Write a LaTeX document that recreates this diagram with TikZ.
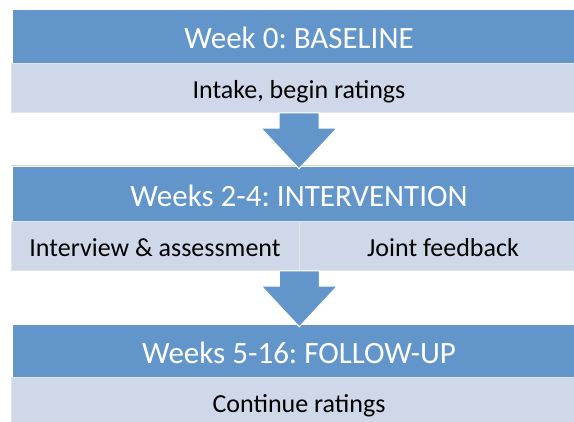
\documentclass[tikz,border=0pt]{standalone}
\usepackage{fontspec}
\setmainfont{Carlito}
\frenchspacing
\usetikzlibrary{%
  shapes.arrows,% single arrow
  positioning%
}
\definecolor{bandblue}{RGB}{98,150,203}
\definecolor{paleblue}{RGB}{206,216,232}

\begin{document}
\begin{tikzpicture}
[x=1pt, y=-1pt, line width=0.6pt,
phase/.style={rectangle, fill=bandblue, text=white, inner sep=0pt, minimum width=573pt, minimum height=53pt, text height=25pt, text depth=0pt, font=\fontsize{31}{31}\selectfont},
task/.style={rectangle, fill=paleblue, draw=gray!22, inner sep=0pt, minimum width=576pt, minimum height=49pt, text height=22pt, text depth=0pt, font=\fontsize{26}{26}\selectfont},
flow/.style={single arrow, fill=bandblue, draw=white, line width=1pt, rotate=-90, inner xsep=0pt, inner ysep=19.5pt, minimum height=56pt, single arrow head extend=18pt, single arrow tip angle=86}]

\useasboundingbox[fill=white] (0,0) rectangle (574,422);

% week 0
\node[phase] (baseline) at (299,36.5) {Week 0: BASELINE};
\node[task] (intake) at (299,87.5) {Intake, begin ratings};

% weeks 2-4
\draw[gray!35] (11,165) -- (587,165);
\node[phase, minimum height=54pt] (intervention) at (299,194) {Weeks 2-4: INTERVENTION};
\node[task, minimum width=288pt] (interview) at (155,245.5) {Interview \& assessment};
\node[task, minimum width=288pt] (feedback) at (443,245.5) {Joint feedback};

% weeks 5-16
\node[phase, minimum height=52pt] (followup) at (299,351) {Weeks 5-16: FOLLOW-UP};
\node[task] (continue) at (299,401.5) {Continue ratings};

% block arrows between the phases
\node[flow, anchor=tail] (step1) at (intake.south) {};
\node[flow, anchor=tail] (step2) at (interview.south east) {};
\end{tikzpicture}
\end{document}
